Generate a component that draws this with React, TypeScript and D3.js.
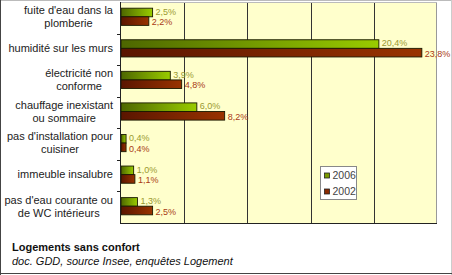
import React from "react";
import * as d3 from "d3";

const categories: string[][] = [
  ["fuite d'eau dans la", "plomberie"],
  ["humidité sur les murs"],
  ["électricité non", "conforme"],
  ["chauffage inexistant", "ou sommaire"],
  ["pas d'installation pour", "cuisiner"],
  ["immeuble insalubre"],
  ["pas d'eau courante ou", "de WC intérieurs"],
];
const series = ["2006", "2002"];
const values2006 = [2.5, 20.4, 3.9, 6.0, 0.4, 1.0, 1.3];
const values2002 = [2.2, 23.8, 4.8, 8.2, 0.4, 1.1, 2.5];
const xTicks = [0, 5, 10, 15, 20, 25];
const title = "Logements sans confort";
const subtitle = "doc. GDD, source Insee, enquêtes Logement";

const W = 452;
const H = 275;
const plot = { left: 121, right: 437, top: 2, bottom: 223 };
const FONT = "Arial, 'Liberation Sans', sans-serif";

let ctx: CanvasRenderingContext2D | null = null;
function measure(text: string, font: string): number {
  if (!ctx) {
    const c = document.createElement("canvas");
    ctx = c.getContext("2d");
  }
  if (!ctx) return text.length * 5.5;
  ctx.font = font;
  return ctx.measureText(text).width;
}

const fmt = (v: number) => v.toFixed(1).replace(".", ",") + "%";

export default function App() {
  const x = d3.scaleLinear().domain([0, 25]).range([plot.left, plot.right]);
  const keys = categories.map((_, i) => String(i));
  const y = d3.scaleBand().domain(keys).range([plot.top, plot.bottom]);
  const bw = y.bandwidth();
  const pairH = 17.2;
  const inner = d3
    .scaleBand()
    .domain(series)
    .range([(bw - pairH) / 2 - 1, (bw - pairH) / 2 - 1 + pairH]);
  const data = [values2006, values2002];
  const fills = ["url(#gGreen)", "url(#gRed)"];
  const labelColors = ["#9a9a30", "#a83a14"];
  const labelShift = [-1, 1];

  return (
    <svg
      width={W}
      height={H}
      style={{ position: "absolute", left: 0, top: 0, background: "#fff" }}
      fontFamily={FONT}
    >
      <defs>
        <linearGradient id="gGreen" x1="0" x2="1" y1="0" y2="0">
          <stop offset="0" stopColor="#4d6600" />
          <stop offset="1" stopColor="#99cc00" />
        </linearGradient>
        <linearGradient id="gRed" x1="0" x2="1" y1="0" y2="0">
          <stop offset="0" stopColor="#5a1500" />
          <stop offset="1" stopColor="#993300" />
        </linearGradient>
      </defs>
      <rect x={0} y={0} width={W} height={H} fill="#fff" />
      {/* outer frame */}
      <line x1={0.5} y1={0.5} x2={W - 0.5} y2={0.5} stroke="#bbb" />
      <line x1={W - 0.5} y1={0} x2={W - 0.5} y2={H} stroke="#ccc" />
      <line x1={0.5} y1={0} x2={0.5} y2={H} stroke="#444" />
      <line x1={0} y1={H - 1.5} x2={W} y2={H - 1.5} stroke="#444" />

      {/* plot background */}
      <rect
        x={plot.left}
        y={plot.top}
        width={plot.right - plot.left}
        height={plot.bottom - plot.top}
        fill="#ffffcc"
      />
      {/* gridlines */}
      {xTicks.slice(1, -1).map((t) => (
        <line
          key={t}
          x1={Math.round(x(t)) + 0.5}
          x2={Math.round(x(t)) + 0.5}
          y1={plot.top}
          y2={plot.bottom}
          stroke="#333"
        />
      ))}
      <line
        x1={plot.right - 0.5}
        x2={plot.right - 0.5}
        y1={plot.top}
        y2={plot.bottom}
        stroke="#999"
      />
      <line
        x1={plot.left}
        x2={plot.right}
        y1={plot.top + 0.5}
        y2={plot.top + 0.5}
        stroke="#bbb"
      />

      {/* bars */}
      {keys.map((k, i) => (
        <g key={k} transform={`translate(0,${y(k)})`}>
          {series.map((s, j) => {
            const v = data[j][i];
            const by = inner(s) as number;
            const bh = inner.bandwidth();
            const xe = x(v);
            return (
              <g key={s}>
                <rect
                  x={x(0)}
                  y={by}
                  width={xe - x(0)}
                  height={bh}
                  fill={fills[j]}
                  stroke="#1a1a00"
                  strokeWidth={0.9}
                />
                <text
                  x={xe + 3}
                  y={by + bh / 2 + labelShift[j]}
                  dy="0.36em"
                  fontSize={9}
                  fill={labelColors[j]}
                >
                  {fmt(v)}
                </text>
              </g>
            );
          })}
        </g>
      ))}

      {/* axes */}
      <line
        x1={plot.left - 0.5}
        x2={plot.left - 0.5}
        y1={plot.top}
        y2={plot.bottom}
        stroke="#222"
      />
      <line
        x1={plot.left - 1}
        x2={plot.right}
        y1={plot.bottom + 0.5}
        y2={plot.bottom + 0.5}
        stroke="#222"
      />
      {keys.slice(1).map((k) => (
        <line
          key={k}
          x1={plot.left - 4}
          x2={plot.left}
          y1={Math.round(y(k) as number) + 0.5}
          y2={Math.round(y(k) as number) + 0.5}
          stroke="#222"
        />
      ))}

      {/* category labels */}
      {categories.map((lines, i) => {
        const font = `11px ${FONT}`;
        const maxW = Math.max(...lines.map((l) => measure(l, font)));
        const cx = 113 - maxW / 2;
        const cy = (y(String(i)) as number) + bw / 2 - 1;
        const lh = 13;
        const start = cy - ((lines.length - 1) * lh) / 2;
        return (
          <text key={i} textAnchor="middle" fontSize={11} fill="#222">
            {lines.map((l, j) => (
              <tspan key={j} x={cx} y={start + j * lh} dy="0.35em">
                {l}
              </tspan>
            ))}
          </text>
        );
      })}

      {/* legend */}
      <g transform="translate(320.5,166.5)">
        <rect width={36} height={33} fill="#fff" stroke="#888" />
        {series.map((s, j) => (
          <g key={s} transform={`translate(4,${9 + j * 16})`}>
            <rect
              x={0}
              y={-2.5}
              width={5}
              height={5}
              fill={j === 0 ? "#7a9a00" : "#8a2a00"}
              stroke="#222"
              strokeWidth={0.8}
            />
            <text x={8} y={0} dy="0.36em" fontSize={10.5} fill="#444">
              {s}
            </text>
          </g>
        ))}
      </g>

      {/* title */}
      <text x={12} y={251} fontSize={11} fontWeight="bold" fill="#111">
        {title}
      </text>
      <text x={12} y={265} fontSize={11} fontStyle="italic" fill="#111">
        {subtitle}
      </text>
    </svg>
  );
}
